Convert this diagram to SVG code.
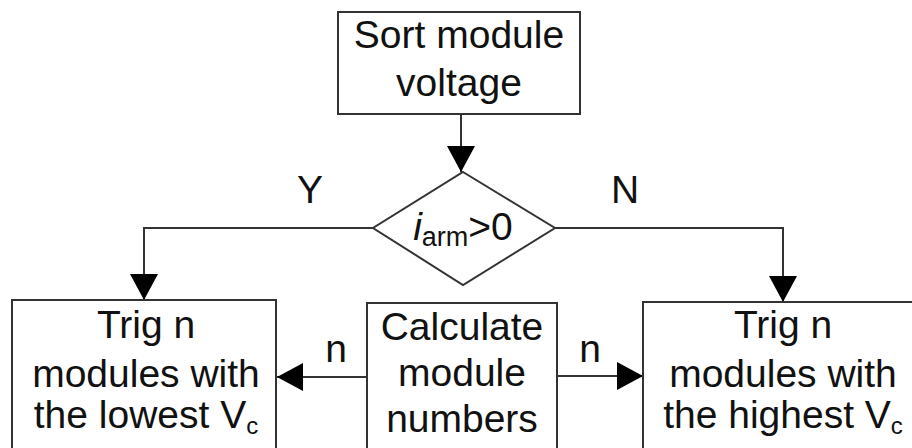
<svg xmlns="http://www.w3.org/2000/svg" width="912" height="448" viewBox="0 0 912 448">
<style>
.box{fill:#fff;stroke:#333;stroke-width:2}
.ln{fill:none;stroke:#333;stroke-width:2}
text{font-family:"Liberation Sans",Arial,sans-serif;font-size:39px;fill:#111;text-anchor:middle}
</style>
<defs>
<marker id="ah" viewBox="0 0 26 28" refX="26" refY="14" markerWidth="26" markerHeight="28" markerUnits="userSpaceOnUse" orient="auto">
<path d="M0,0 L26,14 L0,28 Z" fill="#000"/>
</marker>
</defs>
<rect width="912" height="448" fill="#fff"/>
<g id="connectors">
<line class="ln" x1="461" y1="114" x2="461" y2="172" marker-end="url(#ah)"/>
<polyline class="ln" points="373,228 144,228 144,300" marker-end="url(#ah)"/>
<polyline class="ln" points="555,228 783,228 783,302" marker-end="url(#ah)"/>
<line class="ln" x1="367" y1="377" x2="277" y2="377" marker-end="url(#ah)"/>
<line class="ln" x1="557" y1="376" x2="643" y2="376" marker-end="url(#ah)"/>
<text x="310" y="203">Y</text>
<text x="625" y="203">N</text>
<text x="336" y="362">n</text>
<text x="590" y="362">n</text>
</g>
<g id="sort">
<rect class="box" x="338" y="12" width="242" height="102"/>
<text x="459" y="48">Sort module</text>
<text x="459" y="96">voltage</text>
</g>
<g id="decision">
<polygon class="box" points="463,172 555,228 463,285 373,228"/>
<text x="463" y="240"><tspan font-style="italic">i</tspan><tspan font-size="27" dy="6">arm</tspan><tspan dy="-6">&gt;0</tspan></text>
</g>
<g id="lowest">
<rect class="box" x="12" y="300" width="264" height="160"/>
<text x="146" y="338">Trig n</text>
<text x="146" y="387">modules with</text>
<text x="146" y="428">the lowest V<tspan font-size="24" dy="6">c</tspan></text>
</g>
<g id="calc">
<rect class="box" x="367" y="303" width="190" height="160"/>
<text x="462" y="340">Calculate</text>
<text x="462" y="386">module</text>
<text x="462" y="432">numbers</text>
</g>
<g id="highest">
<rect class="box" x="643" y="302" width="280" height="160"/>
<text x="783" y="338">Trig n</text>
<text x="783" y="387">modules with</text>
<text x="783" y="428">the highest V<tspan font-size="24" dy="6">c</tspan></text>
</g>
</svg>
